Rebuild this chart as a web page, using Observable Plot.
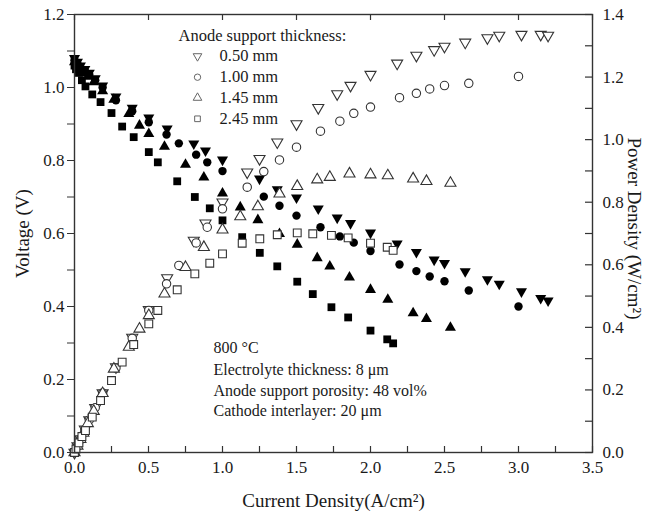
<!DOCTYPE html>
<html>
<head>
<meta charset="utf-8">
<script src="https://cdn.jsdelivr.net/npm/d3@7"></script>
<script src="https://cdn.jsdelivr.net/npm/@observablehq/plot@0.6"></script>
<style>
  html, body { margin: 0; padding: 0; background: white; }
  #chart { width: 663px; height: 519px; }
</style>
</head>
<body>
<div id="chart"></div>
<script>
// ---- Data ----
const series = ["0.50 mm", "1.00 mm", "1.45 mm", "2.45 mm"];

const current050 = [0.0,0.02,0.04,0.07,0.10,0.14,0.19,0.28,0.39,0.502,0.626,0.806,0.885,1.0,1.167,1.25,1.37,1.50,1.647,1.775,1.865,2.0,2.18,2.31,2.43,2.50,2.64,2.79,2.87,3.02,3.15,3.20];
const voltage050 = [1.08,1.07,1.06,1.05,1.04,1.025,1.005,0.975,0.944,0.917,0.887,0.846,0.827,0.802,0.768,0.750,0.721,0.698,0.668,0.643,0.628,0.602,0.572,0.549,0.528,0.519,0.496,0.474,0.462,0.441,0.423,0.416];
const power050   = [0.0,0.021,0.043,0.074,0.104,0.143,0.19,0.273,0.368,0.456,0.558,0.678,0.733,0.80,0.896,0.939,0.992,1.05,1.102,1.146,1.173,1.208,1.244,1.269,1.287,1.298,1.311,1.325,1.333,1.336,1.336,1.333];

const current100 = [0.0,0.02,0.04,0.07,0.10,0.14,0.19,0.28,0.39,0.502,0.622,0.705,0.822,0.897,1.0,1.167,1.279,1.385,1.5,1.662,1.793,1.887,2.0,2.196,2.31,2.40,2.50,2.664,3.0];
const voltage100 = [1.075,1.065,1.055,1.045,1.035,1.02,1.0,0.965,0.935,0.905,0.871,0.847,0.816,0.795,0.771,0.727,0.701,0.676,0.649,0.617,0.592,0.575,0.552,0.515,0.497,0.482,0.469,0.444,0.40];
const power100   = [0.0,0.021,0.042,0.073,0.104,0.143,0.19,0.27,0.365,0.454,0.539,0.598,0.67,0.72,0.779,0.848,0.898,0.935,0.976,1.027,1.059,1.084,1.104,1.134,1.148,1.162,1.173,1.180,1.202];

const current145 = [0.0,0.02,0.04,0.06,0.09,0.13,0.19,0.266,0.367,0.439,0.502,0.608,0.75,0.874,1.0,1.12,1.239,1.385,1.505,1.64,1.725,1.858,2.0,2.117,2.288,2.378,2.54];
const voltage145 = [1.07,1.06,1.05,1.04,1.03,1.015,0.99,0.967,0.928,0.896,0.873,0.838,0.789,0.754,0.71,0.672,0.637,0.599,0.57,0.533,0.51,0.48,0.446,0.419,0.382,0.366,0.342];
const power145   = [0.0,0.021,0.042,0.062,0.093,0.132,0.189,0.267,0.337,0.395,0.438,0.507,0.592,0.656,0.712,0.754,0.786,0.827,0.851,0.872,0.88,0.891,0.888,0.885,0.875,0.867,0.861];

const current245 = [0.0,0.01,0.03,0.05,0.074,0.12,0.176,0.25,0.322,0.40,0.502,0.563,0.694,0.813,0.914,1.0,1.133,1.252,1.37,1.505,1.61,1.736,1.849,2.0,2.113,2.153];
const voltage245 = [1.06,1.05,1.04,1.02,1.003,0.981,0.96,0.93,0.893,0.864,0.823,0.795,0.743,0.70,0.669,0.636,0.59,0.547,0.51,0.468,0.434,0.398,0.37,0.334,0.31,0.299];
const power245   = [0.0,0.011,0.031,0.051,0.07,0.113,0.166,0.23,0.289,0.345,0.411,0.454,0.52,0.571,0.605,0.635,0.669,0.683,0.696,0.702,0.699,0.694,0.686,0.669,0.656,0.646];

// tick values
const xMajorTicks = [0, 0.5, 1.0, 1.5, 2.0, 2.5, 3.0, 3.5];
const xMinorTicks = [0.25, 0.75, 1.25, 1.75, 2.25, 2.75, 3.25];
const yTicks = [0, 0.1, 0.2, 0.3, 0.4, 0.5, 0.6, 0.7, 0.8, 0.9, 1.0, 1.1, 1.2];
const powerTicks = [0, 0.1, 0.2, 0.3, 0.4, 0.5, 0.6, 0.7, 0.8, 0.9, 1.0, 1.1, 1.2, 1.3, 1.4];
const annotations = ["800 °C", "Electrolyte thickness: 8 μm", "Anode support porosity: 48 vol%", "Cathode interlayer: 20 μm"];

// ---- Build tables ----
const raw = [
  [series[0], current050, voltage050, power050],
  [series[1], current100, voltage100, power100],
  [series[2], current145, voltage145, power145],
  [series[3], current245, voltage245, power245]
];
const rows = raw.flatMap(([s, I, V, P]) => I.map((c, i) => ({series: s, current: c, voltage: V[i], power: P[i]})));

const VMAX = 1.2, PMAX = 1.4;
const p2y = p => p * VMAX / PMAX;

// down-pointing triangle symbol
const sqrt3 = Math.sqrt(3);
const triangleDown = {
  draw(context, size) {
    const y = -Math.sqrt(size / (sqrt3 * 3));
    context.moveTo(0, -y * 2);
    context.lineTo(-sqrt3 * y, y);
    context.lineTo(sqrt3 * y, y);
    context.closePath();
  }
};
const symbolOf = {"0.50 mm": triangleDown, "1.00 mm": "circle", "1.45 mm": "triangle", "2.45 mm": "square"};
const rOf = {"0.50 mm": 4.1, "1.00 mm": 4.2, "1.45 mm": 4.1, "2.45 mm": 4.4};

const W = 663, H = 519, ML = 74, MR = 71, MT = 14, MB = 67;
const plotW = W - ML - MR, plotH = H - MT - MB;
const ink = "#1a1a1a";

const filledMarks = series.map(s => Plot.dot(rows.filter(d => d.series === s), {
  x: "current", y: "voltage", symbol: () => symbolOf[s], r: rOf[s], fill: "#000", stroke: "none"
}));
const openMarks = series.map(s => Plot.dot(rows.filter(d => d.series === s), {
  x: "current", y: d => p2y(d.power), symbol: () => symbolOf[s], r: rOf[s], fill: "white", stroke: "#333", strokeWidth: 1.1
}));

const legendRowsY = [41.7, 62.7, 83.3, 104.3];
const legendMarks = series.flatMap((s, i) => [
  Plot.dot([s], {frameAnchor: "top-left", dx: 123, dy: legendRowsY[i], symbol: () => symbolOf[s], r: 3.2, fill: "white", stroke: "#666", strokeWidth: 1}),
  Plot.text([s], {frameAnchor: "top-left", dx: 145, dy: legendRowsY[i], text: d => d, textAnchor: "start", lineAnchor: "middle", fontSize: 16.5, fill: ink})
]);

const annY = [333, 355, 376, 396];
const annMarks = annotations.map((t, i) => Plot.text([t], {frameAnchor: "top-left", dx: 139, dy: annY[i], text: d => d, textAnchor: "start", lineAnchor: "middle", fontSize: 16, fill: ink}));

const chart = Plot.plot({
  width: W, height: H,
  marginLeft: ML, marginRight: MR, marginTop: MT, marginBottom: MB,
  x: {domain: [0, 3.5]},
  y: {domain: [0, VMAX]},
  style: {fontFamily: "'Liberation Serif', 'DejaVu Serif', serif", fontSize: "17px", color: ink, background: "white"},
  marks: [
    ...filledMarks,
    ...openMarks,
    // left axis (outward ticks)
    Plot.axisY({anchor: "left", ticks: yTicks, tickSize: 7, tickPadding: 3, tickFormat: (d, i) => i % 2 ? "" : d3.format(".1f")(d), label: null, fontSize: 17, stroke: "#333"}),
    // right axis labels
    Plot.axisY({anchor: "right", ticks: powerTicks.filter((d, i) => i % 2 === 0).map(p2y), tickSize: 0, tickPadding: 10, tickFormat: d => (d * PMAX / VMAX).toFixed(1), label: null, fontSize: 17}),
    // right axis inward ticks
    Plot.tickY(powerTicks, {y: p2y, insetLeft: plotW - 7, stroke: "#333", strokeWidth: 1.2}),
    // bottom axis labels
    Plot.axisX({anchor: "bottom", ticks: xMajorTicks, tickSize: 0, tickPadding: 8, tickFormat: d3.format(".1f"), label: null, fontSize: 17}),
    // bottom inward ticks
    Plot.tickX([...xMajorTicks, ...xMinorTicks], {x: d => d, insetTop: plotH - 6, stroke: "#333", strokeWidth: 1.2}),
    // top inward ticks
    Plot.tickX(xMajorTicks, {x: d => d, insetBottom: plotH - 6, stroke: "#333", strokeWidth: 1.2}),
    Plot.frame({stroke: "#333", strokeWidth: 1.4}),
    // axis titles
    Plot.text(["Voltage (V)"], {frameAnchor: "left", dx: -52, rotate: -90, text: d => d, textAnchor: "middle", lineAnchor: "middle", fontSize: 19, fill: ink}),
    Plot.text(["Power Density (W/cm²)"], {frameAnchor: "right", dx: 42, dy: -5, rotate: 90, text: d => d, textAnchor: "middle", lineAnchor: "middle", fontSize: 19, fill: ink}),
    Plot.text(["Current Density(A/cm²)"], {frameAnchor: "bottom", dy: 48, text: d => d, textAnchor: "middle", lineAnchor: "middle", fontSize: 19, fill: ink}),
    // legend
    Plot.text(["Anode support thickness:"], {frameAnchor: "top-left", dx: 104, dy: 21, text: d => d, textAnchor: "start", lineAnchor: "middle", fontSize: 16.5, fill: ink}),
    ...legendMarks,
    ...annMarks
  ]
});
document.getElementById("chart").appendChild(chart);
</script>
</body>
</html>
